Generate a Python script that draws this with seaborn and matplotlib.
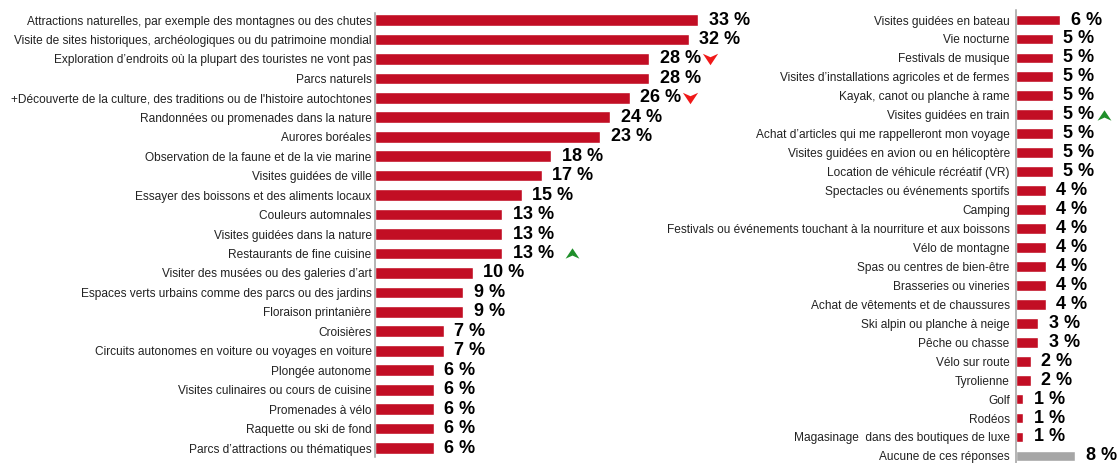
import matplotlib
matplotlib.use("Agg")
import matplotlib.pyplot as plt
from matplotlib.path import Path
import seaborn as sns
import pandas as pd

# Activités – colonne de gauche
left_activities = [
    "Attractions naturelles, par exemple des montagnes ou des chutes",
    "Visite de sites historiques, archéologiques ou du patrimoine mondial",
    "Exploration d’endroits où la plupart des touristes ne vont pas",
    "Parcs naturels",
    "+Découverte de la culture, des traditions ou de l'histoire autochtones",
    "Randonnées ou promenades dans la nature",
    "Aurores boréales",
    "Observation de la faune et de la vie marine",
    "Visites guidées de ville",
    "Essayer des boissons et des aliments locaux",
    "Couleurs automnales",
    "Visites guidées dans la nature",
    "Restaurants de fine cuisine",
    "Visiter des musées ou des galeries d’art",
    "Espaces verts urbains comme des parcs ou des jardins",
    "Floraison printanière",
    "Croisières",
    "Circuits autonomes en voiture ou voyages en voiture",
    "Plongée autonome",
    "Visites culinaires ou cours de cuisine",
    "Promenades à vélo",
    "Raquette ou ski de fond",
    "Parcs d’attractions ou thématiques",
]
left_pct = [33, 32, 28, 28, 26, 24, 23, 18, 17, 15, 13, 13, 13, 10, 9, 9, 7, 7, 6, 6, 6, 6, 6]
left_trend = ["", "", "down", "", "down", "", "", "", "", "", "", "", "up",
              "", "", "", "", "", "", "", "", "", ""]

# Activités – colonne de droite
right_activities = [
    "Visites guidées en bateau",
    "Vie nocturne",
    "Festivals de musique",
    "Visites d’installations agricoles et de fermes",
    "Kayak, canot ou planche à rame",
    "Visites guidées en train",
    "Achat d’articles qui me rappelleront mon voyage",
    "Visites guidées en avion ou en hélicoptère",
    "Location de véhicule récréatif (VR)",
    "Spectacles ou événements sportifs",
    "Camping",
    "Festivals ou événements touchant à la nourriture et aux boissons",
    "Vélo de montagne",
    "Spas ou centres de bien-être",
    "Brasseries ou vineries",
    "Achat de vêtements et de chaussures",
    "Ski alpin ou planche à neige",
    "Pêche ou chasse",
    "Vélo sur route",
    "Tyrolienne",
    "Golf",
    "Rodéos",
    "Magasinage  dans des boutiques de luxe",
    "Aucune de ces réponses",
]
right_pct = [6, 5, 5, 5, 5, 5, 5, 5, 5, 4, 4, 4, 4, 4, 4, 4, 3, 3, 2, 2, 1, 1, 1, 8]
right_trend = ["", "", "", "", "", "up"] + [""] * 18

RED = "#C20E24"
GREY = "#A6A6A6"
UP_COLOR = "#1F8F2A"
DOWN_COLOR = "#F01818"

sns.set_theme(style="white")
plt.rcParams["font.family"] = ["Liberation Sans", "DejaVu Sans"]

# Flèches de tendance (pointe + encoche), plus larges que hautes
UP_ARROW = Path([(0, 0.75), (1, -0.75), (0, -0.3), (-1, -0.75), (0, 0.75)],
                [Path.MOVETO, Path.LINETO, Path.LINETO, Path.LINETO, Path.CLOSEPOLY])
DOWN_ARROW = Path([(0, -0.75), (1, 0.75), (0, 0.3), (-1, 0.75), (0, -0.75)],
                  [Path.MOVETO, Path.LINETO, Path.LINETO, Path.LINETO, Path.CLOSEPOLY])

fig = plt.figure(figsize=(11.19, 4.63), dpi=100)
W, H = 1119, 463

ax_l = fig.add_axes([375 / W, 6 / H, 343 / W, 444 / H])
ax_r = fig.add_axes([1016 / W, -2.4 / H, 88.8 / W, 455.4 / H])


def draw_panel(ax, cats, vals, colors, xmax, ylim, bar_h, pad):
    df = pd.DataFrame({"activite": cats, "pct": vals})
    sns.barplot(data=df, x="pct", y="activite", hue="activite", palette=colors,
                legend=False, orient="h", width=bar_h, saturation=1, ax=ax)
    ax.set_xlim(0, xmax)
    ax.set_ylim(*ylim)
    ax.set_xlabel("")
    ax.set_ylabel("")
    ax.set_xticks([])
    for side in ("top", "right", "bottom"):
        ax.spines[side].set_visible(False)
    ax.spines["left"].set_color("#A0A0A0")
    ax.spines["left"].set_linewidth(1.1)
    ax.tick_params(axis="y", length=0, pad=pad, labelsize=8.6, labelcolor="#222222")
    ax.patch.set_alpha(0)
    texts = []
    for i, v in enumerate(vals):
        t = ax.annotate(f"{v} %", xy=(v, i), xytext=(7.5, 0), textcoords="offset points",
                        ha="left", va="center", fontsize=13, fontweight="bold",
                        color="black", annotation_clip=False)
        texts.append(t)
    return texts


left_texts = draw_panel(ax_l, left_activities, left_pct, [RED] * len(left_pct),
                        35, (22.46, -0.36), 0.6, 2.5)
right_colors = [RED] * (len(right_pct) - 1) + [GREY]
right_texts = draw_panel(ax_r, right_activities, right_pct, right_colors,
                         12, (23.5, -0.53), 0.57, 4.5)

# Place les flèches juste après l'étiquette de valeur
fig.canvas.draw()
renderer = fig.canvas.get_renderer()
extra_gap = {"Restaurants de fine cuisine": 9}
for ax, cats, trends, texts in ((ax_l, left_activities, left_trend, left_texts),
                                (ax_r, right_activities, right_trend, right_texts)):
    for i, (cat, trend, txt) in enumerate(zip(cats, trends, texts)):
        if not trend:
            continue
        bb = txt.get_window_extent(renderer)
        y_disp = ax.transData.transform((0, i))[1]
        x_disp = bb.x1 + 9 + extra_gap.get(cat, 0)
        x_data, _ = ax.transData.inverted().transform((x_disp, y_disp))
        marker = UP_ARROW if trend == "up" else DOWN_ARROW
        color = UP_COLOR if trend == "up" else DOWN_COLOR
        ax.plot([x_data], [i], marker=marker, markersize=11 if trend == "down" else 10,
                color=color, markeredgewidth=0, linestyle="none", clip_on=False)

fig.savefig("out.png", dpi=100)
